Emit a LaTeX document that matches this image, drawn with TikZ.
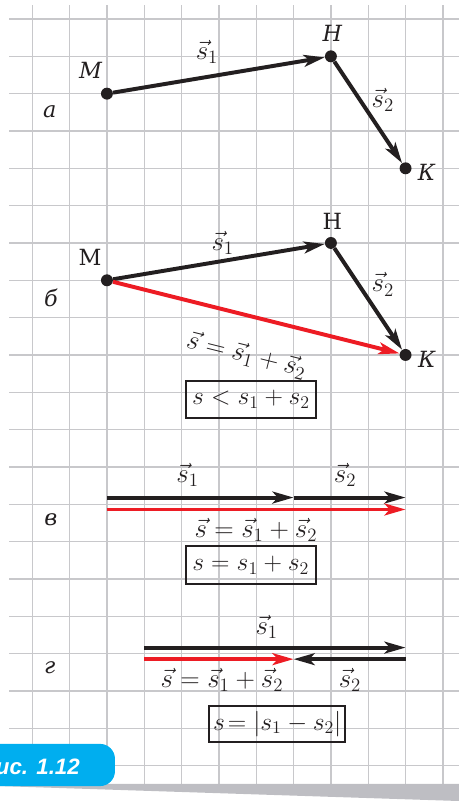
\documentclass[tikz,border=0pt]{standalone}
\usepackage{fix-cm}
\usepackage{amsmath}
\usepackage{fontspec}
\setmainfont{DejaVu Serif}
\newfontfamily\tabfont{Liberation Sans}
\usetikzlibrary{arrows.meta}

\definecolor{gridgray}{RGB}{200,200,203}
\definecolor{vecred}{RGB}{237,28,36}
\definecolor{vecblack}{RGB}{35,31,32}
\definecolor{tabblue}{RGB}{0,174,239}
\definecolor{bargray}{RGB}{190,190,195}

\tikzset{
  gridline/.style={gridgray,line width=1pt},
  dot/.style={circle,fill=vecblack,inner sep=0pt,minimum size=0.32cm},
  vec/.style={vecblack,line width=3pt,-{Stealth[length=16pt,width=9pt,inset=4pt]}},
  redvec/.style={vec,vecred},
  lbl/.style={text=vecblack,font=\fontsize{17}{20}\selectfont},
  eq/.style={text=vecblack,font=\fontsize{20.5}{23}\selectfont},
  framebox/.style={text=vecblack,font=\fontsize{19.5}{22}\selectfont,draw=vecblack,line width=1.5pt,minimum height=1cm,inner sep=2pt},
  tabtext/.style={text=white,font=\tabfont\bfseries\itshape\fontsize{17}{20}\selectfont}
}

\begin{document}
\begin{tikzpicture}

\useasboundingbox (-0.865,-20.95) rectangle (11.43,0.509);
\clip (-0.865,-20.95) rectangle (11.43,0.509);

%Grid
\foreach \x in {0,...,11} \draw[gridline] (\x,0.375)--(\x,-20.49);
\foreach \y in {0,...,20} \draw[gridline] (-0.616,-\y)--(11.43,-\y);

%Panel a
\node[dot] (Ma) at (2,-2) {};
\node[dot] (Ha) at (8,-1) {};
\node[dot] (Ka) at (10,-4) {};
\draw[vec] (Ma)--(Ha);
\draw[vec] (Ha)--(Ka);
\node[lbl] (ma) at (1.56,-1.37) {\itshape М};
\node[lbl] (ha) at (8.04,-0.38) {\itshape Н};
\node[lbl] (ka) at (10.56,-4.11) {\itshape К};
\node[lbl] (pa) at (0.47,-2.48) {\itshape а};
\node[eq] (s1a) at (4.68,-0.88) {$\vec{s}_1$};
\node[eq] (s2a) at (9.39,-2.17) {$\vec{s}_2$};

%Panel b
\node[dot] (Mb) at (2,-7) {};
\node[dot] (Hb) at (8,-6) {};
\node[dot] (Kb) at (10,-9) {};
\draw[vec] (Mb)--(Hb);
\draw[vec] (Hb)--(Kb);
\draw[redvec] (Mb)--(Kb);
\node[lbl] (mb) at (1.55,-6.38) {М};
\node[lbl] (hb) at (8.04,-5.43) {Н};
\node[lbl] (kb) at (10.57,-9.13) {\itshape К};
\node[lbl] (pb) at (0.5,-7.46) {\itshape б};
\node[eq] (s1b) at (5.1,-5.99) {$\vec{s}_1$};
\node[eq] (s2b) at (9.39,-7.11) {$\vec{s}_2$};
\node[eq,rotate=-14,inner sep=0pt] (sumb) at (5.74,-9.0) {$\vec{s}=\vec{s}_1+\vec{s}_2$};
\node[framebox,minimum width=3.46cm] (boxb) at (5.86,-10.19) {$s<s_1+s_2$};

%Panel v
\coordinate (A1) at (2,-12.82);
\coordinate (A2) at (7,-12.82);
\coordinate (A3) at (10,-12.82);
\coordinate (R1) at (2,-13.14);
\coordinate (R2) at (10,-13.14);
\draw[vec] (A1)--(A2);
\draw[vec] (A2)--(A3);
\draw[redvec] (R1)--(R2);
\node[eq] (s1v) at (4.16,-12.21) {$\vec{s}_1$};
\node[eq] (s2v) at (8.38,-12.21) {$\vec{s}_2$};
\node[lbl] (pv) at (0.5,-13.42) {\itshape в};
\node[eq] (sumv) at (5.99,-13.68) {$\vec{s}=\vec{s}_1+\vec{s}_2$};
\node[framebox,minimum width=3.48cm] (boxv) at (5.85,-14.63) {$s=s_1+s_2$};

%Panel g
\coordinate (B1) at (3,-16.84);
\coordinate (B2) at (10,-16.84);
\coordinate (C1) at (3,-17.15);
\coordinate (C2) at (7,-17.15);
\coordinate (C3) at (10,-17.15);
\draw[vec] (B1)--(B2);
\draw[redvec] (C1)--(C2);
\draw[vec] (C3)--(C2);
\node[eq] (s1g) at (6.28,-16.28) {$\vec{s}_1$};
\node[eq] (sumg) at (5.08,-17.7) {$\vec{s}=\vec{s}_1+\vec{s}_2$};
\node[eq] (s2g) at (8.51,-17.7) {$\vec{s}_2$};
\node[lbl] (pg) at (0.47,-17.39) {\itshape г};
\node[framebox,minimum width=3.64cm,minimum height=0.96cm] (boxg) at (6.56,-18.88) {$s\!=|s_1-s_2|$};

%Caption tab
\fill[bargray] (-0.865,-20.49)--(11.43,-20.49)--(11.43,-20.95)--(-0.865,-20.55)--cycle;
\fill[tabblue,rounded corners=0.4cm] (-1.5,-19.42) rectangle (2.215,-20.55);
\node[tabtext,anchor=base east,inner sep=0pt] (fig) at (1.28,-20.23) {Рис. 1.12};

\end{tikzpicture}
\end{document}
